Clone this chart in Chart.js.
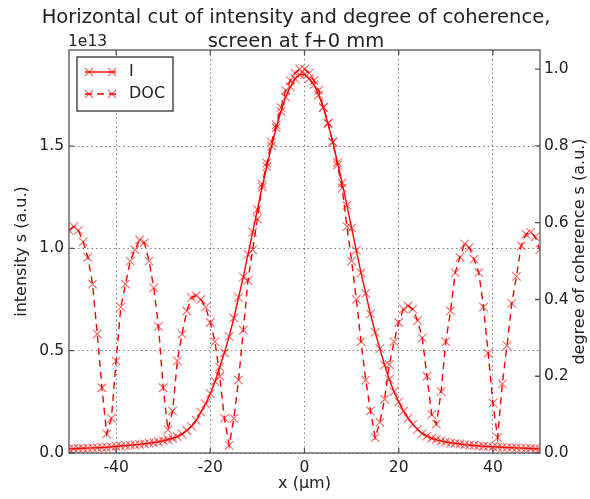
<!DOCTYPE html>
<html>
<head>
<meta charset="utf-8">
<script src="https://cdn.jsdelivr.net/npm/chart.js@4/dist/chart.umd.min.js"></script>
<style>
  html, body { margin: 0; padding: 0; background: #fff; }
  #wrap { width: 590px; height: 499px; }
</style>
</head>
<body>
<div id="wrap"><canvas id="chart" width="590" height="499"></canvas></div>
<script>
// x positions of the cut (µm)
const xPositions = [
  -50, -49, -48, -47, -46, -45, -44, -43, -42, -41,
  -40, -39, -38, -37, -36, -35, -34, -33, -32, -31,
  -30, -29, -28, -27, -26, -25, -24, -23, -22, -21,
  -20, -19, -18, -17, -16, -15, -14, -13, -12, -11,
  -10, -9, -8, -7, -6, -5, -4, -3, -2, -1,
  0, 1, 2, 3, 4, 5, 6, 7, 8, 9,
  10, 11, 12, 13, 14, 15, 16, 17, 18, 19,
  20, 21, 22, 23, 24, 25, 26, 27, 28, 29,
  30, 31, 32, 33, 34, 35, 36, 37, 38, 39,
  40, 41, 42, 43, 44, 45, 46, 47, 48, 49, 50
];

// intensity, in units of 1e13
const intensity = [
  0.020, 0.021, 0.022, 0.023, 0.024, 0.025, 0.026, 0.027, 0.028, 0.030,
  0.032, 0.034, 0.036, 0.038, 0.040, 0.042, 0.045, 0.048, 0.051, 0.055,
  0.060, 0.066, 0.072, 0.080, 0.092, 0.11, 0.13, 0.16, 0.20, 0.24,
  0.29, 0.35, 0.42, 0.49, 0.57, 0.66, 0.76, 0.86, 0.97, 1.08,
  1.19, 1.30, 1.40, 1.50, 1.59, 1.67, 1.74, 1.79, 1.83, 1.85,
  1.85, 1.83, 1.80, 1.75, 1.69, 1.61, 1.52, 1.42, 1.32, 1.21,
  1.10, 0.99, 0.88, 0.78, 0.68, 0.59, 0.51, 0.43, 0.36, 0.30,
  0.25, 0.205, 0.17, 0.14, 0.115, 0.095, 0.082, 0.072, 0.065, 0.059,
  0.054, 0.050, 0.047, 0.044, 0.041, 0.039, 0.037, 0.035, 0.033, 0.032,
  0.030, 0.029, 0.028, 0.027, 0.026, 0.025, 0.024, 0.023, 0.022, 0.021, 0.020
];

// degree of coherence
const doc = [
  0.58, 0.59, 0.58, 0.55, 0.51, 0.44, 0.31, 0.17, 0.05, 0.09,
  0.24, 0.38, 0.44, 0.50, 0.53, 0.555, 0.548, 0.50, 0.43, 0.33,
  0.17, 0.06, 0.11, 0.24, 0.31, 0.37, 0.405, 0.41, 0.40, 0.38,
  0.34, 0.29, 0.20, 0.09, 0.02, 0.09, 0.19, 0.32, 0.45, 0.53,
  0.61, 0.70, 0.755, 0.81, 0.855, 0.90, 0.945, 0.97, 0.99, 1.0,
  1.0, 0.99, 0.97, 0.945, 0.90, 0.86, 0.81, 0.75, 0.69, 0.59,
  0.50, 0.40, 0.29, 0.19, 0.11, 0.04, 0.08, 0.14, 0.23, 0.29,
  0.34, 0.375, 0.383, 0.375, 0.345, 0.30, 0.20, 0.10, 0.075, 0.16,
  0.29, 0.37, 0.47, 0.51, 0.545, 0.535, 0.505, 0.47, 0.38, 0.26,
  0.13, 0.04, 0.18, 0.28, 0.39, 0.46, 0.54, 0.57, 0.575, 0.563, 0.53
];

const xTicks = [-40, -20, 0, 20, 40];
const leftTicks = [0, 0.5, 1.0, 1.5];
const rightTicks = [0, 0.2, 0.4, 0.6, 0.8, 1.0];

const titleLines = ['Horizontal cut of intensity and degree of coherence,', 'screen at f+0 mm'];
const FONT = '"DejaVu Sans", sans-serif';
const RED = '#ff0000';
const MARK = 'rgba(255,0,0,0.6)';
const FRAME = '#555';
const GRID = 'rgba(0,0,0,0.5)';

function drawX(ctx, x, y, r) {
  ctx.beginPath();
  ctx.moveTo(x - r, y - r); ctx.lineTo(x + r, y + r);
  ctx.moveTo(x - r, y + r); ctx.lineTo(x + r, y - r);
  ctx.stroke();
}

// frame, inward ticks, titles and the legend box
const decorations = {
  id: 'decorations',
  afterDraw(chart) {
    const ctx = chart.ctx;
    const a = chart.chartArea;
    const sx = chart.scales.x, sy = chart.scales.y, sy1 = chart.scales.y1;
    ctx.save();

    ctx.strokeStyle = FRAME;
    ctx.lineWidth = 1.3;
    ctx.strokeRect(a.left, a.top, a.right - a.left, a.bottom - a.top);

    const tl = 5;
    ctx.beginPath();
    xTicks.forEach(v => {
      const px = sx.getPixelForValue(v);
      ctx.moveTo(px, a.bottom); ctx.lineTo(px, a.bottom - tl);
      ctx.moveTo(px, a.top); ctx.lineTo(px, a.top + tl);
    });
    leftTicks.forEach(v => {
      const py = sy.getPixelForValue(v);
      ctx.moveTo(a.left, py); ctx.lineTo(a.left + tl, py);
    });
    rightTicks.forEach(v => {
      const py = sy1.getPixelForValue(v);
      ctx.moveTo(a.right, py); ctx.lineTo(a.right - tl, py);
    });
    ctx.stroke();

    ctx.fillStyle = '#222';
    ctx.textAlign = 'center';
    ctx.textBaseline = 'alphabetic';
    ctx.font = '19.5px ' + FONT;
    ctx.fillText(titleLines[0], 296, 23);
    ctx.fillText(titleLines[1], 296, 47);

    ctx.font = '15.5px ' + FONT;
    ctx.textAlign = 'left';
    ctx.fillText('1e13', a.left - 1, 46);

    const cx = (a.left + a.right) / 2;
    ctx.font = '16px ' + FONT;
    ctx.textAlign = 'center';
    ctx.textBaseline = 'middle';
    ctx.fillText('x (\u00b5m)', cx, 484);
    const cy = (a.top + a.bottom) / 2;
    ctx.save();
    ctx.translate(22, cy);
    ctx.rotate(-Math.PI / 2);
    ctx.fillText('intensity s (a.u.)', 0, 0);
    ctx.restore();
    ctx.save();
    ctx.translate(580, cy);
    ctx.rotate(-Math.PI / 2);
    ctx.fillText('degree of coherence s (a.u.)', 0, 0);
    ctx.restore();

    // legend
    const lx = 77, ly = 57, lw = 96, lh = 54;
    ctx.fillStyle = '#fff';
    ctx.fillRect(lx, ly, lw, lh);
    ctx.strokeStyle = '#333';
    ctx.lineWidth = 1.3;
    ctx.strokeRect(lx, ly, lw, lh);

    const y1 = 72, y2 = 94, x1 = 89, x2 = 112;
    ctx.strokeStyle = RED;
    ctx.lineWidth = 1.4;
    ctx.beginPath(); ctx.moveTo(85, y1); ctx.lineTo(116, y1); ctx.stroke();
    ctx.setLineDash([7, 5]);
    ctx.beginPath(); ctx.moveTo(85, y2); ctx.lineTo(116, y2); ctx.stroke();
    ctx.setLineDash([]);
    ctx.strokeStyle = MARK;
    ctx.lineWidth = 1.1;
    [x1, x2].forEach(x => { drawX(ctx, x, y1, 4); drawX(ctx, x, y2, 4); });

    ctx.fillStyle = '#222';
    ctx.textAlign = 'left';
    ctx.textBaseline = 'middle';
    ctx.font = '16px ' + FONT;
    ctx.fillText('I', 129, y1);
    ctx.fillText('DOC', 129, y2);

    ctx.restore();
  }
};

const pts = arr => xPositions.map((x, i) => ({ x: x, y: arr[i] }));

new Chart(document.getElementById('chart'), {
  type: 'line',
  data: {
    datasets: [
      {
        label: 'DOC',
        data: pts(doc),
        yAxisID: 'y1',
        borderColor: RED,
        borderWidth: 1.4,
        borderDash: [7, 5],
        pointStyle: 'crossRot',
        pointRadius: 6,
        pointBorderWidth: 1.1,
        pointBorderColor: MARK,
        pointBackgroundColor: MARK,
        fill: false,
        tension: 0,
        order: 0
      },
      {
        label: 'I',
        data: pts(intensity),
        yAxisID: 'y',
        borderColor: RED,
        borderWidth: 1.4,
        pointStyle: 'crossRot',
        pointRadius: 6,
        pointBorderWidth: 1.1,
        pointBorderColor: MARK,
        pointBackgroundColor: MARK,
        fill: false,
        tension: 0,
        order: 1
      }
    ]
  },
  options: {
    responsive: false,
    animation: false,
    devicePixelRatio: 1,
    layout: { padding: { top: 50, left: 0, right: 0, bottom: 0 } },
    plugins: {
      legend: { display: false },
      title: { display: false },
      tooltip: { enabled: false }
    },
    scales: {
      x: {
        type: 'linear',
        min: -50,
        max: 50,
        afterFit: s => { s.height = 46; },
        afterBuildTicks: s => { s.ticks = xTicks.map(v => ({ value: v })); },
        grid: { color: GRID, lineWidth: 1, drawTicks: false },
        border: { display: false, dash: [1.5, 3] },
        ticks: { color: '#222', font: { family: FONT, size: 15.5 }, padding: 6, maxRotation: 0 }
      },
      y: {
        type: 'linear',
        position: 'left',
        min: 0,
        max: 1.97,
        afterFit: s => { s.width = 69; },
        afterBuildTicks: s => { s.ticks = leftTicks.map(v => ({ value: v })); },
        grid: { color: GRID, lineWidth: 1, drawTicks: false },
        border: { display: false, dash: [1.5, 3] },
        ticks: { color: '#222', font: { family: FONT, size: 15.5 }, padding: 5, callback: v => v.toFixed(1) }
      },
      y1: {
        type: 'linear',
        position: 'right',
        min: 0,
        max: 1.05,
        afterFit: s => { s.width = 50; },
        afterBuildTicks: s => { s.ticks = rightTicks.map(v => ({ value: v })); },
        grid: { display: false, drawTicks: false },
        border: { display: false },
        ticks: { color: '#222', font: { family: FONT, size: 15.5 }, padding: 4, callback: v => v.toFixed(1) }
      }
    }
  },
  plugins: [decorations]
});
</script>
</body>
</html>
